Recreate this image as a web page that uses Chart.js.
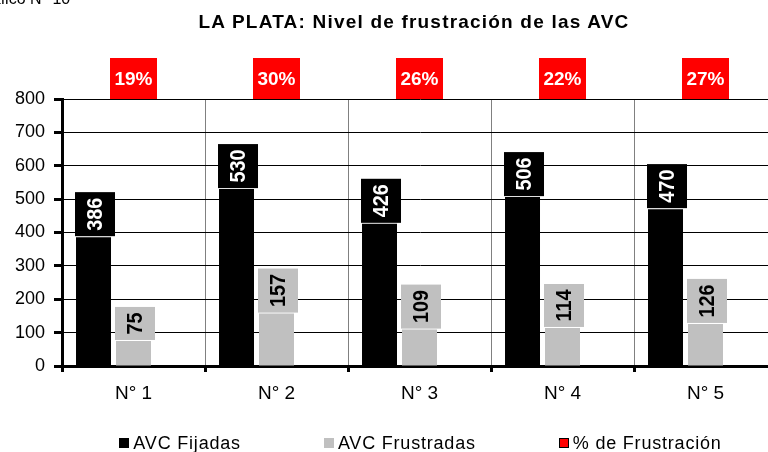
<!DOCTYPE html>
<html>
<head>
<meta charset="utf-8">
<script src="https://cdn.jsdelivr.net/npm/chart.js@4"></script>
<style>
  body { margin: 0; background: #fff; }
  #wrap { position: relative; width: 768px; height: 452px; overflow: hidden; font-family: "Liberation Sans", Arial, sans-serif; }
  #c { position: absolute; left: 0; top: 0; }
  #note { position: absolute; left: -26px; top: -9px; font-size: 16px; line-height: 16px; white-space: nowrap; }
  #title { position: absolute; left: 0; width: 828px; top: 12px; text-align: center; font-weight: bold; font-size: 19px; line-height: 19px; letter-spacing: 1.2px; white-space: nowrap; }
  #legend { position: absolute; left: 0; width: 841px; top: 434px; display: flex; justify-content: center; gap: 83px; font-size: 18px; line-height: 18px; letter-spacing: 0.8px; white-space: nowrap; }
  #legend span.item { display: flex; align-items: center; }
  #legend i { display: inline-block; width: 10px; height: 10px; margin-right: 4px; box-sizing: border-box; }
</style>
</head>
<body>
<div id="wrap">
  <canvas id="c" width="800" height="452"></canvas>
  <div id="note">Gráfico N° 10</div>
  <div id="title">LA PLATA: Nivel de frustración de las AVC</div>
  <div id="legend"></div>
</div>
<script>
const categories = ["N° 1", "N° 2", "N° 3", "N° 4", "N° 5"];
const fijadas = [386, 530, 426, 506, 470];
const frustradas = [75, 157, 109, 114, 126];
const pctFrustracion = [19, 30, 26, 22, 27];

const FONT = '"Liberation Sans", Arial, sans-serif';

// etiquetas en cajas (valores rotados y porcentajes rojos)
const boxLabels = {
    id: "boxLabels",
    afterDatasetsDraw(chart) {
        const ctx = chart.ctx;
        ctx.save();
        ctx.textAlign = "center";
        ctx.textBaseline = "middle";
        [0, 1].forEach(di => {
            const ds = chart.data.datasets[di];
            chart.getDatasetMeta(di).data.forEach((bar, i) => {
                const txt = String(ds.data[i]);
                ctx.font = "bold 22px " + FONT;
                const h = ctx.measureText(txt).width * 0.9 + 11;
                const w = 40;
                const cx = bar.x + 1.5;
                const bottom = bar.y - 1;
                ctx.fillStyle = ds.backgroundColor;
                ctx.fillRect(cx - w / 2, bottom - h, w, h);
                ctx.save();
                ctx.translate(cx, bottom - h / 2);
                ctx.rotate(-Math.PI / 2);
                ctx.scale(0.9, 1);
                ctx.fillStyle = di === 0 ? "#fff" : "#000";
                ctx.fillText(txt, 0, 1);
                ctx.restore();
            });
        });
        ctx.font = "bold 19px " + FONT;
        const xs = chart.scales.x;
        const top = chart.chartArea.top;
        pctFrustracion.forEach((p, i) => {
            const cx = xs.getPixelForValue(i);
            ctx.fillStyle = "#ff0000";
            ctx.fillRect(cx - 23.5, top - 41, 47, 41);
            ctx.fillStyle = "#fff";
            ctx.fillText(p + "%", cx, top - 19.5);
        });
        ctx.restore();
    }
};

const chart = new Chart(document.getElementById("c").getContext("2d"), {
    type: "bar",
    data: {
        labels: categories,
        datasets: [
            { label: "AVC Fijadas", data: fijadas, backgroundColor: "#000000", legendColor: "#000000" },
            { label: "AVC Frustradas", data: frustradas, backgroundColor: "#c0c0c0", legendColor: "#c0c0c0" },
            { label: "% de Frustración", data: pctFrustracion, yAxisID: "y2", backgroundColor: "rgba(0,0,0,0)", legendColor: "#ff0000", legendBorder: "#000" }
        ]
    },
    options: {
        responsive: false,
        animation: false,
        categoryPercentage: 0.839,
        barPercentage: 0.875,
        layout: { padding: { left: 0, right: 23, top: 99, bottom: 46 } },
        plugins: { legend: { display: false }, title: { display: false }, tooltip: { enabled: false } },
        scales: {
            x: {
                grid: { color: "#808080", lineWidth: 1, offset: true, tickLength: 6, tickWidth: 3, tickColor: "#000" },
                border: { color: "#000", width: 3 },
                ticks: { color: "#000", font: { family: FONT, size: 19 }, padding: 10 },
                afterFit: s => { s.height = 40; }
            },
            y: {
                min: 0,
                max: 800,
                ticks: { stepSize: 100, color: "#000", font: { family: FONT, size: 18 }, padding: 9 },
                grid: { color: "#000", lineWidth: 1, tickLength: 8, tickWidth: 3, tickColor: "#000" },
                border: { color: "#000", width: 3 },
                afterFit: s => { s.width = 62; }
            },
            y2: { display: false, min: 0, max: 100 }
        }
    },
    plugins: [boxLabels]
});

// leyenda
const legend = document.getElementById("legend");
chart.data.datasets.forEach(ds => {
    const item = document.createElement("span");
    item.className = "item";
    const sw = document.createElement("i");
    sw.style.background = ds.legendColor;
    if (ds.legendBorder) sw.style.border = "1px solid " + ds.legendBorder;
    item.appendChild(sw);
    item.appendChild(document.createTextNode(ds.label));
    legend.appendChild(item);
});
</script>
</body>
</html>
